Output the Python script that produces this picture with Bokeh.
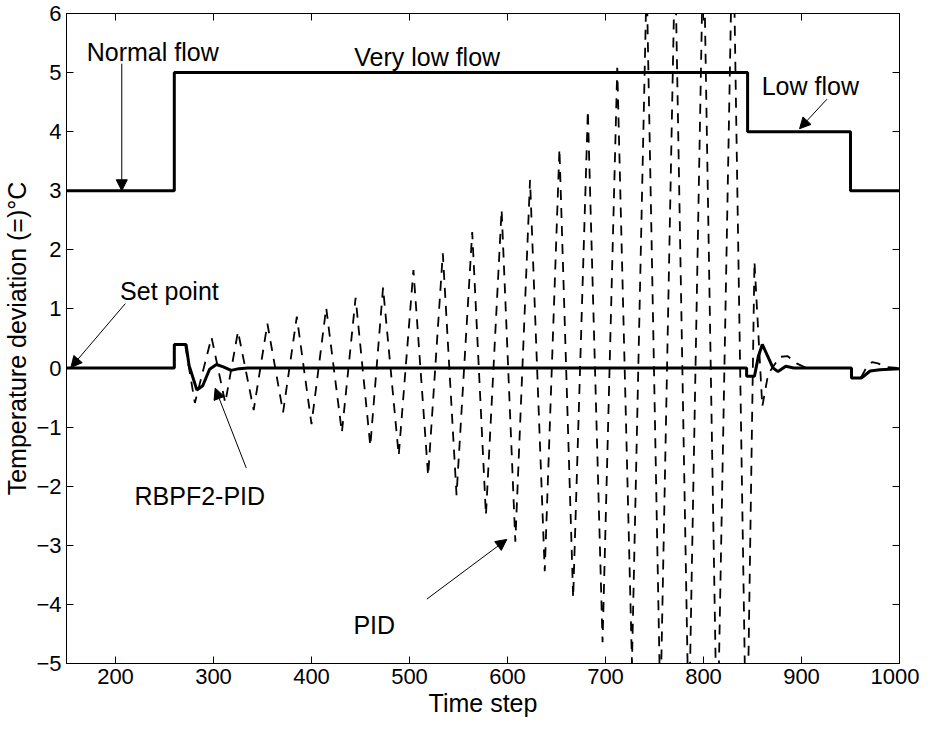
from bokeh.plotting import figure
from bokeh.models import Range1d, FixedTicker, LinearAxis, Label, Arrow, NormalHead
from bokeh.embed import file_html
from bokeh.resources import INLINE

FONT = "Liberation Sans"

# ---- data ----
flow_x = [150, 260, 260, 845, 845, 950, 950, 1000]
flow_y = [3, 3, 5, 5, 4, 4, 3, 3]

rbpf_x = [150, 260, 260, 272, 275, 283, 289, 296, 303, 310, 318, 326, 335,
          844, 844, 852, 856, 860, 865, 871, 876, 884, 892, 951, 951, 961,
          964, 970, 980, 1000]
rbpf_y = [0, 0, 0.40, 0.40, 0.05, -0.37, -0.30, -0.02, 0.06, 0.02, -0.04, -0.01, 0,
          0, -0.14, -0.14, 0.20, 0.40, 0.22, 0.0, -0.06, 0.03, 0, 0, -0.17, -0.17,
          -0.13, -0.05, -0.03, -0.01]

pid_x = [150, 260, 260, 271, 281, 298, 312, 325, 341, 355, 371, 385, 400, 415,
         431, 445, 460, 473, 489, 504, 519, 534, 548, 564, 578, 594, 608, 623,
         638, 653, 667, 682, 697, 712, 727, 742, 756, 771, 785, 800, 814, 830,
         844, 852, 860, 866, 878, 886, 895, 905, 950, 952, 961, 966, 972, 978,
         986, 1000]
pid_y = [0, 0, 0.40, 0.40, -0.59, 0.52, -0.59, 0.62, -0.71, 0.75, -0.75, 0.87,
         -0.95, 1.02, -1.09, 1.19, -1.32, 1.36, -1.48, 1.66, -1.82, 1.94, -2.15,
         2.30, -2.49, 2.68, -2.94, 3.18, -3.44, 3.71, -3.89, 4.36, -4.64, 5.08,
         -5.0, 6.6, -5.8, 7.0, -6.2, 7.4, -6.6, 7.8, -7.0, 1.8, -0.65, -0.1,
         0.19, 0.20, 0.08, 0.0, 0.0, -0.15, -0.15, 0.0, 0.10, 0.08, 0.02, 0.0]

x_ticks = [200, 300, 400, 500, 600, 700, 800, 900, 1000]
x_tick_labels = ["200", "300", "400", "500", "600", "700", "800", "900", "1000"]
y_ticks = [-5, -4, -3, -2, -1, 0, 1, 2, 3, 4, 5, 6]
y_tick_labels = ["\u22125", "\u22124", "\u22123", "\u22122", "\u22121", "0",
                 "1", "2", "3", "4", "5", "6"]

x_title = "Time step"
y_title = "Temperature deviation (=)\u00b0C"

# annotations: (text, x, y)
labels = [
    ("Normal flow", 238, 5.35),
    ("Very low flow", 518, 5.27),
    ("Low flow", 909, 4.78),
    ("Set point", 255, 1.31),
    ("RBPF2-PID", 286, -2.17),
    ("PID", 464, -4.35),
]
# arrows: (x_start, y_start, x_end, y_end)
arrows = [
    (206.4, 5.15, 206.4, 3.0),
    (926, 4.55, 898, 4.05),
    (210, 1.09, 154.5, 0.01),
    (333.4, -1.69, 301.7, -0.34),
    (517.7, -3.91, 599.3, -2.9),
]

p = figure(width=919, height=719,
           x_range=Range1d(150, 1000), y_range=Range1d(-5, 6),
           output_backend="svg", toolbar_location=None,
           min_border_left=65, min_border_right=20,
           min_border_top=13, min_border_bottom=50)
p.background_fill_color = "white"
p.border_fill_color = "white"
p.outline_line_color = "black"
p.outline_line_width = 1
p.xgrid.visible = False
p.ygrid.visible = False


def style_axis(ax, ticks, tick_labels, show_labels):
    ax.ticker = FixedTicker(ticks=ticks)
    ax.major_tick_in = 7
    ax.major_tick_out = 0
    ax.minor_tick_line_color = None
    ax.axis_line_color = "black"
    ax.major_tick_line_color = "black"
    ax.major_label_text_font = FONT
    ax.major_label_text_color = "black"
    ax.axis_label_text_font = FONT
    ax.axis_label_text_font_size = "25px"
    ax.axis_label_text_font_style = "normal"
    ax.axis_label_text_color = "black"
    if show_labels:
        ax.major_label_overrides = {t: s for t, s in zip(ticks, tick_labels)}
        ax.major_label_text_font_size = "22px"
        ax.major_label_standoff = 5
        ax.axis_label_standoff = 2
    else:
        ax.major_label_overrides = {t: "" for t in ticks}
        ax.major_label_text_font_size = "0px"
        ax.major_label_standoff = 0


style_axis(p.xaxis[0], x_ticks, x_tick_labels, True)
style_axis(p.yaxis[0], y_ticks, y_tick_labels, True)
p.xaxis[0].axis_label = x_title
p.yaxis[0].axis_label = y_title

top = LinearAxis()
style_axis(top, x_ticks, x_tick_labels, False)
p.add_layout(top, "above")
right = LinearAxis()
style_axis(right, y_ticks, y_tick_labels, False)
p.add_layout(right, "right")

p.line(flow_x, flow_y, line_color="black", line_width=3)
p.line(pid_x, pid_y, line_color="black", line_width=1.8, line_dash="10 8")
p.line(rbpf_x, rbpf_y, line_color="black", line_width=3)

for text, lx, ly in labels:
    p.add_layout(Label(x=lx, y=ly, text=text, text_font=FONT,
                       text_font_size="25px", text_color="black",
                       text_align="center", text_baseline="middle"))

for xs, ys, xe, ye in arrows:
    p.add_layout(Arrow(end=NormalHead(size=11, fill_color="black",
                                      line_color="black"),
                       x_start=xs, y_start=ys, x_end=xe, y_end=ye,
                       line_color="black", line_width=1))

open("out.html", "w").write(file_html(p, INLINE))
